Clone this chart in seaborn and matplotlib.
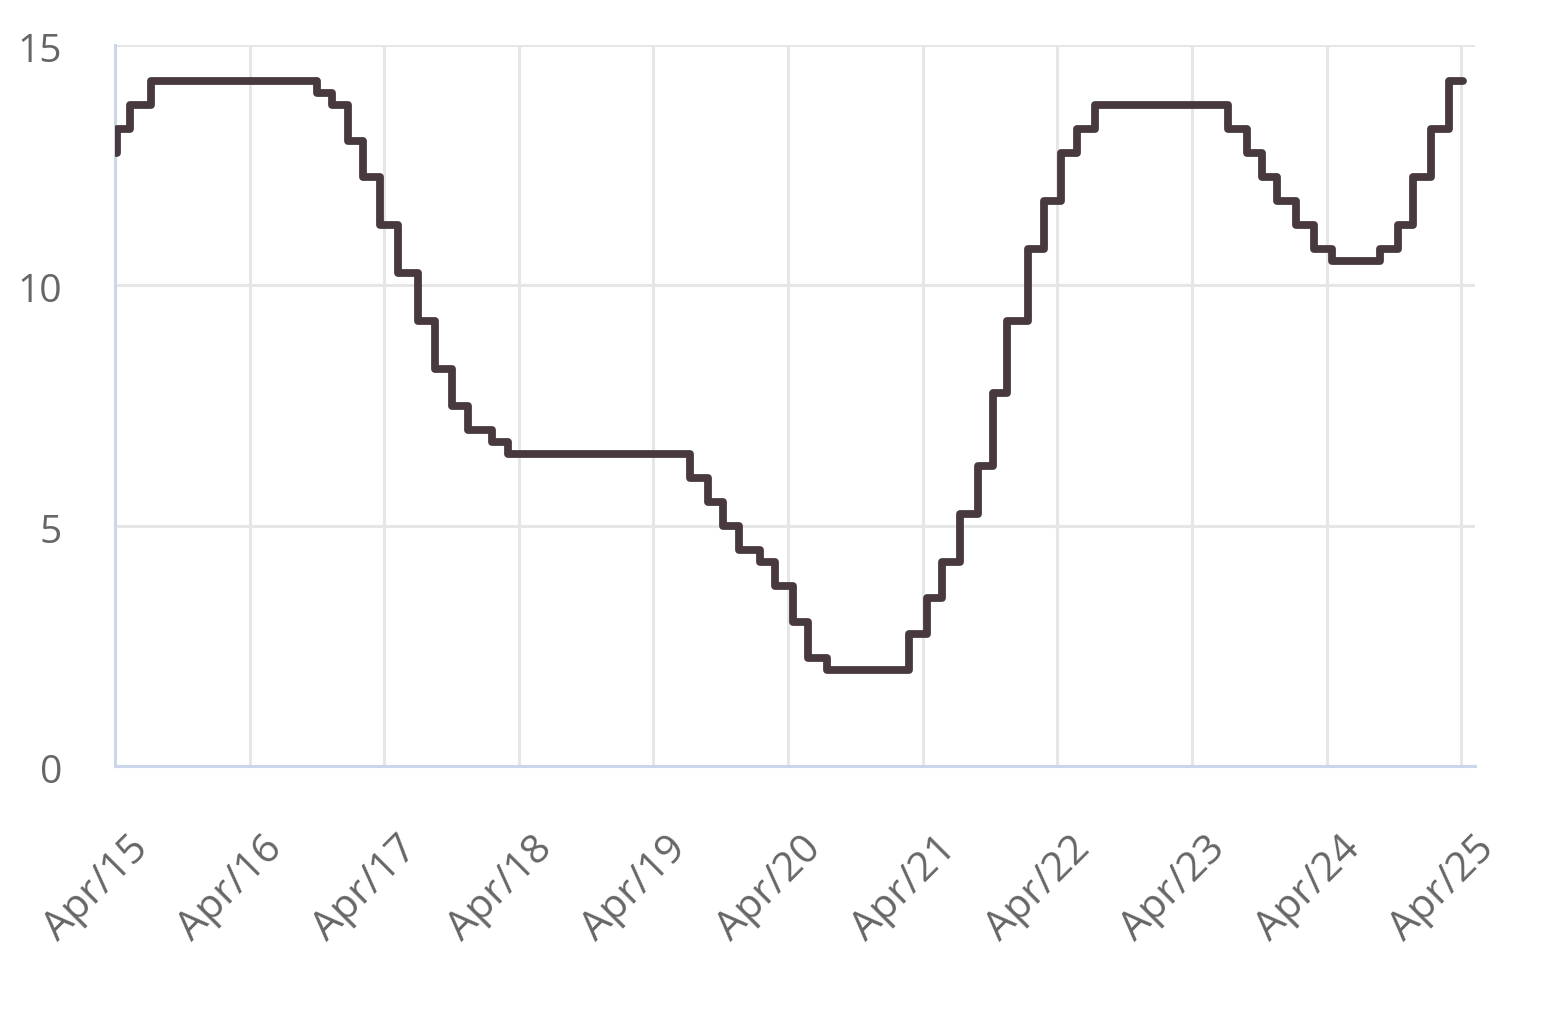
import matplotlib
matplotlib.use("Agg")
import matplotlib.pyplot as plt
import matplotlib.transforms as mtransforms
import seaborn as sns
import pandas as pd
import numpy as np

# ---- data ----
change_dates = [
    "2015-04-05", "2015-04-06", "2015-05-11", "2015-07-07",
    "2016-09-29", "2016-11-09", "2016-12-22", "2017-02-01",
    "2017-03-20", "2017-05-08", "2017-07-01", "2017-08-17",
    "2017-10-02", "2017-11-15", "2018-01-19", "2018-03-01",
    "2019-07-09", "2019-08-27", "2019-10-07", "2019-11-20",
    "2020-01-16", "2020-02-26", "2020-04-14", "2020-05-24",
    "2020-07-15", "2021-02-22", "2021-04-13", "2021-05-23",
    "2021-07-11", "2021-08-29", "2021-10-07", "2021-11-16",
    "2022-01-10", "2022-02-23", "2022-04-11", "2022-05-24",
    "2022-07-12", "2023-07-08", "2023-08-29", "2023-10-09",
    "2023-11-19", "2024-01-07", "2024-02-25", "2024-04-16",
    "2024-08-24", "2024-10-12", "2024-11-20", "2025-01-08",
    "2025-02-26", "2025-04-06",
]
rates = [
    12.75, 13.25, 13.75, 14.25,
    14.00, 13.75, 13.00, 12.25,
    11.25, 10.25, 9.25, 8.25,
    7.50, 7.00, 6.75, 6.50,
    6.00, 5.50, 5.00, 4.50,
    4.25, 3.75, 3.00, 2.25,
    2.00, 2.75, 3.50, 4.25,
    5.25, 6.25, 7.75, 9.25,
    10.75, 11.75, 12.75, 13.25,
    13.75, 13.25, 12.75, 12.25,
    11.75, 11.25, 10.75, 10.50,
    10.75, 11.25, 12.25, 13.25,
    14.25, 14.25,
]
tick_dates = ["2015-04-01", "2016-04-01", "2017-04-01", "2018-04-01",
              "2019-04-01", "2020-04-01", "2021-04-01", "2022-04-01",
              "2023-04-01", "2024-04-01", "2025-04-01"]
tick_labels = ["Apr/15", "Apr/16", "Apr/17", "Apr/18", "Apr/19", "Apr/20",
               "Apr/21", "Apr/22", "Apr/23", "Apr/24", "Apr/25"]
y_ticks = [0, 5, 10, 15]
x_range = ["2015-04-01", "2025-05-08"]

df = pd.DataFrame({"date": pd.to_datetime(change_dates), "rate": rates})

sns.set_theme(style="white")
plt.rcParams["font.family"] = ["Open Sans", "DejaVu Sans"]

fig = plt.figure(figsize=(15.6, 10.1), dpi=100)
W, H = 1560, 1010
ax = fig.add_axes([115 / W, 1 - 766 / H, (1475 - 115) / W, (766 - 45) / H])

sns.lineplot(data=df, x="date", y="rate", ax=ax, estimator=None,
             drawstyle="steps-post", color="#47393d", linewidth=5.6,
             solid_joinstyle="round", solid_capstyle="round", zorder=5)

ax.set_xlim(pd.to_datetime(x_range[0]), pd.to_datetime(x_range[1]))
ax.set_ylim(0, 15)
ax.set_xticks(pd.to_datetime(tick_dates))
ax.set_xticklabels(tick_labels)
ax.set_yticks(y_ticks)
ax.set_yticklabels([str(v) for v in y_ticks])
ax.set_xlabel("")
ax.set_ylabel("")

ax.grid(True, color="#e6e6e6", linewidth=2.2, zorder=0)
ax.set_axisbelow(True)
for s in ["top", "right"]:
    ax.spines[s].set_visible(False)
for s in ["left", "bottom"]:
    ax.spines[s].set_visible(True)
    ax.spines[s].set_color("#ccd6eb")
    ax.spines[s].set_linewidth(2.2)

ax.tick_params(axis="x", which="major", length=23, width=2.2, color="#ccd6eb",
               direction="out", pad=29, labelsize=29.5, labelcolor="#666666")
ax.tick_params(axis="y", which="major", length=0, pad=38, labelsize=28,
               labelcolor="#666666")

offx = mtransforms.ScaledTranslation(0.27, -0.05, fig.dpi_scale_trans)
for lab in ax.get_xticklabels():
    lab.set_rotation(45)
    lab.set_ha("right")
    lab.set_va("center")
    lab.set_rotation_mode("anchor")
    lab.set_transform(lab.get_transform() + offx)
offy = mtransforms.ScaledTranslation(0, -0.07, fig.dpi_scale_trans)
for lab in ax.get_yticklabels():
    lab.set_va("center")
    lab.set_transform(lab.get_transform() + offy)

fig.savefig("out.png", dpi=100)
